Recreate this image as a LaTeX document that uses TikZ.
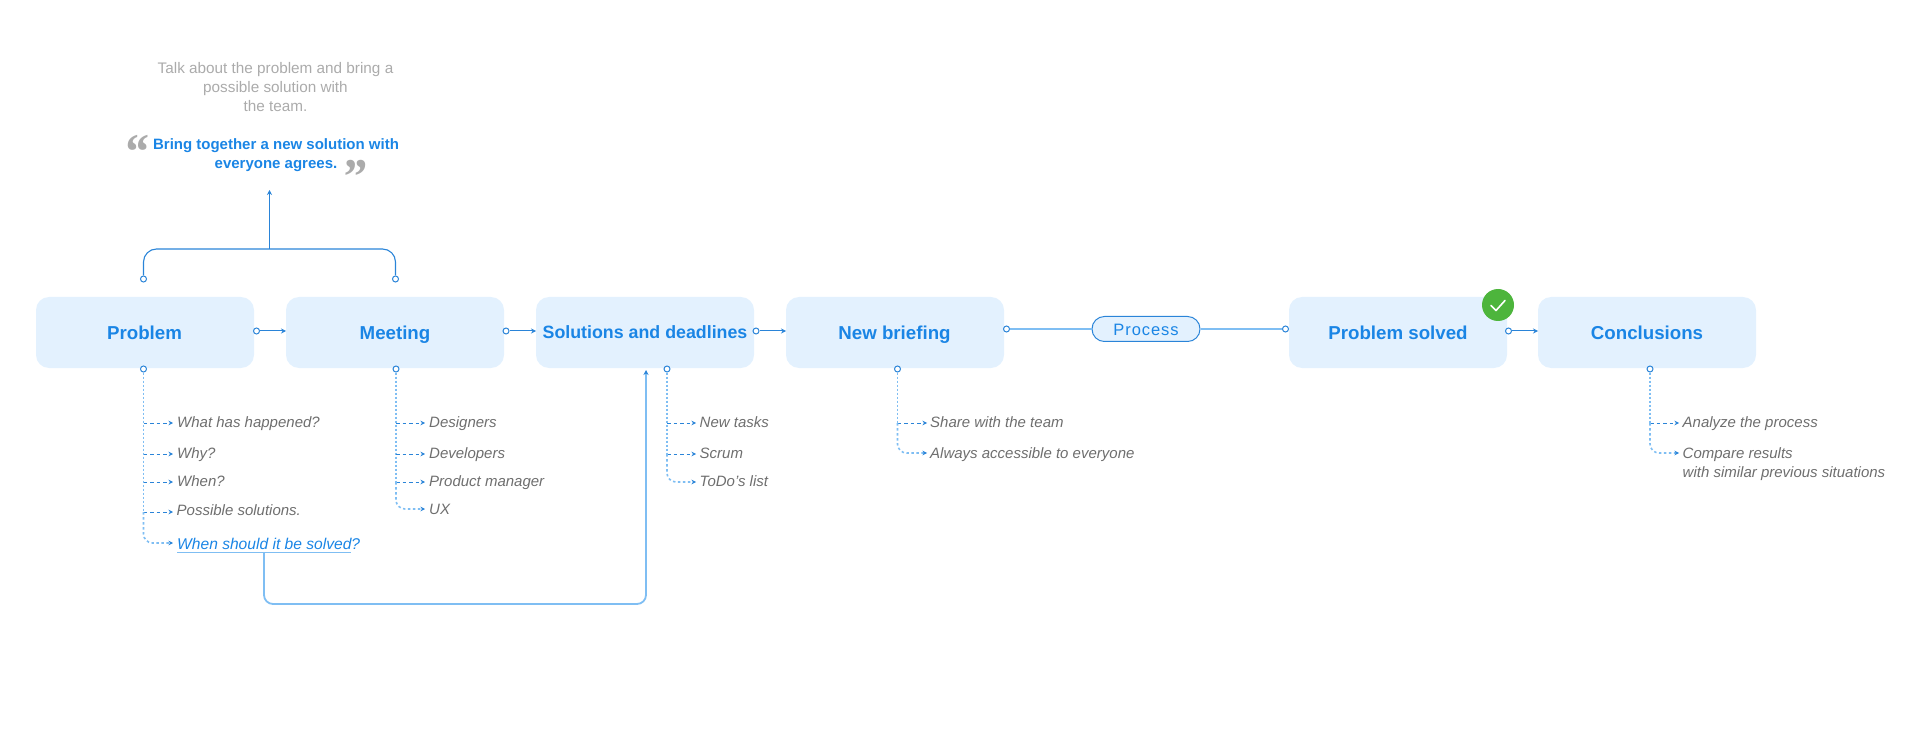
\documentclass[tikz,border=0pt]{standalone}
\usepackage{fontspec}
\setmainfont{Liberation Sans}
\newfontfamily\serifq{Liberation Serif}
\newfontfamily\spaced[LetterSpace=5.6]{Liberation Sans}
\usetikzlibrary{arrows.meta}
\definecolor{boxfill}{HTML}{E3F1FE}
\definecolor{blueT}{HTML}{1A85E5}
\definecolor{lineD}{HTML}{2A84D8}
\definecolor{lineL}{HTML}{7FBEF3}
\definecolor{grayT}{HTML}{6E6E6E}
\definecolor{grayL}{HTML}{ABABAB}
\definecolor{okgreen}{HTML}{4DB53C}
\tikzset{
  x=1pt,y=-1pt,
  stage/.style={fill=boxfill,rounded corners=13pt,minimum width=218pt,minimum height=71pt,inner sep=0pt},
  stagetext/.style={anchor=base,font=\fontsize{18.7}{22}\selectfont\bfseries,text=blueT,inner sep=0pt},
  port/.style={circle,draw=lineD,fill=white,line width=1pt,minimum size=6pt,inner sep=0pt},
  flow/.style={draw=lineD,line width=1pt,-{Stealth[length=5pt,width=5pt]}},
  trunk/.style={draw=lineL,line width=1.9pt,dash pattern=on 2pt off 2pt},
  branch/.style={draw=lineD,line width=1pt,dash pattern=on 3.5pt off 3pt,-{Stealth[length=4.5pt,width=4.5pt]}},
  endbranch/.style={draw=lineL,line width=1.6pt,dash pattern=on 2.5pt off 2.5pt,rounded corners=9pt,-{Stealth[length=4.5pt,width=4.5pt,lineD]}},
  item/.style={anchor=base west,font=\fontsize{15}{18}\selectfont\itshape,text=grayT,inner sep=0pt},
  talktext/.style={anchor=base,font=\fontsize{15.3}{18}\selectfont,text=grayL,inner sep=0pt},
  bringtext/.style={anchor=base,font=\fontsize{15}{18}\selectfont\bfseries,text=blueT,inner sep=0pt},
  quotemark/.style={anchor=base,font=\fontsize{50}{50}\selectfont\serifq\bfseries\itshape,text=grayL,inner sep=0pt},
  solid line/.style={draw=lineL,line width=1.8pt},
}
\begin{document}
\begin{tikzpicture}
\useasboundingbox (0,0) rectangle (1920,743);
% stages
\node[stage] (problem) at (145,332.5) {};
\node[stage] (meeting) at (395,332.5) {};
\node[stage] (solutions) at (645,332.5) {};
\node[stage] (briefing) at (895,332.5) {};
\node[stage] (solved) at (1398,332.5) {};
\node[stage] (conclusions) at (1647,332.5) {};
\node[stagetext] (tproblem) at (144.5,339.5) {Problem};
\node[stagetext] (tmeeting) at (395,339.5) {Meeting};
\node[stagetext,font=\fontsize{17.8}{22}\selectfont\bfseries] (tsolutions) at (645,339) {Solutions and deadlines};
\node[stagetext] (tbriefing) at (894.5,339.5) {New briefing};
\node[stagetext] (tsolved) at (1398,339.5) {Problem solved};
\node[stagetext] (tconclusions) at (1647,339.5) {Conclusions};
% check badge
\node[circle,fill=okgreen,minimum size=32pt,inner sep=0pt] (badge) at (1498,305) {};
\draw[white,line width=1.6pt,line cap=round,line join=round] (1491,305.5) -- (1496,310.5) -- (1505,300.5);
% top text
\node[talktext] (talk1) at (275.5,74) {Talk about the problem and bring a};
\node[talktext] (talk2) at (275.5,93) {possible solution with};
\node[talktext] (talk3) at (275.5,112) {the team.};
\node[bringtext] (bring1) at (276,149.5) {Bring together a new solution with};
\node[bringtext] (bring2) at (276,168.5) {everyone agrees.};
\node[quotemark] (qopen) at (136,168.5) {“};
\node[quotemark] (qclose) at (354,193.5) {”};
% ports
\node[port] (pA) at (143.5,279) {};
\node[port] (pB) at (395.5,279) {};
\coordinate (cornerA) at (143.5,249);
\coordinate (cornerB) at (395.5,249);
\coordinate (join) at (269.5,249);
\coordinate (up) at (269.5,190);
\draw[draw=lineD,line width=1.1pt,rounded corners=13pt] (pA) -- (cornerA) -- (cornerB) -- (pB);
\draw[flow] (join) -- (up);
% horizontal flows
\node[port] (rA) at (256.5,331) {};
\node[port] (rB) at (506,331) {};
\node[port] (rC) at (756,331) {};
\node[port] (rD) at (1006.5,329) {};
\node[port] (rE) at (1285.5,329) {};
\node[port] (rF) at (1508.5,331) {};
\coordinate (inB) at (286,331);
\coordinate (inC) at (536,331);
\coordinate (inD) at (786,331);
\coordinate (inF) at (1538,331);
\draw[flow] (rA) -- (inB);
\draw[flow] (rB) -- (inC);
\draw[flow] (rC) -- (inD);
\draw[flow] (rF) -- (inF);
\node[draw=lineD,fill=boxfill,rounded corners=12.4pt,line width=1pt,minimum width=108pt,minimum height=25pt,inner sep=0pt] (process) at (1146,329) {};
\node[anchor=base,font=\fontsize{16.5}{20}\spaced,text=blueT,inner sep=0pt] (tprocess) at (1146,335.5) {Process};
\draw[solid line] (rD) -- (process);
\draw[solid line] (process) -- (rE);
% problem items
\node[port] (bA) at (143.5,369) {};
\draw[trunk] (bA) -- (143.5,512);
\coordinate (a1) at (143.5,423); \coordinate (a1e) at (173,423);
\coordinate (a2) at (143.5,454); \coordinate (a2e) at (173,454);
\coordinate (a3) at (143.5,482); \coordinate (a3e) at (173,482);
\coordinate (a4) at (143.5,512); \coordinate (a4e) at (173,512);
\coordinate (a5e) at (173,543);
\draw[branch] (a1) -- (a1e);
\draw[branch] (a2) -- (a2e);
\draw[branch] (a3) -- (a3e);
\draw[branch] (a4) -- (a4e);
\draw[endbranch] (a4) |- (a5e);
\node[item] (i1) at (177,427.5) {What has happened?};
\node[item] (i2) at (177,458.5) {Why?};
\node[item] (i3) at (177,486.5) {When?};
\node[item] (i4) at (176.5,515.5) {Possible solutions.};
\node[item,text=blueT,font=\fontsize{15.6}{18}\selectfont\itshape] (i5) at (177,549.5) {When should it be solved?};
\coordinate (ulA) at (177,552.5);
\coordinate (ulB) at (351,552.5);
\draw[solid line,line width=1.4pt] (ulA) -- (ulB);
% long link
\coordinate (lnkS) at (264,553);
\coordinate (lnkC1) at (264,604);
\coordinate (lnkC2) at (646,604);
\coordinate (lnkE) at (646,370);
\draw[solid line,rounded corners=9pt,-{Stealth[length=5pt,width=5pt,lineD]}] (lnkS) -- (lnkC1) -- (lnkC2) -- (lnkE);
% meeting items
\node[port] (bB) at (396,369) {};
\draw[trunk] (bB) -- (396,482);
\coordinate (b1) at (396,423); \coordinate (b1e) at (425,423);
\coordinate (b2) at (396,454); \coordinate (b2e) at (425,454);
\coordinate (b3) at (396,482); \coordinate (b3e) at (425,482);
\coordinate (b4e) at (425,509);
\draw[branch] (b1) -- (b1e);
\draw[branch] (b2) -- (b2e);
\draw[branch] (b3) -- (b3e);
\draw[endbranch] (b3) |- (b4e);
\node[item] (j1) at (429,427.5) {Designers};
\node[item] (j2) at (429,458.5) {Developers};
\node[item] (j3) at (429,486.5) {Product manager};
\node[item] (j4) at (429,514.5) {UX};
% solutions items
\node[port] (bC) at (667,369) {};
\draw[trunk] (bC) -- (667,454);
\coordinate (c1) at (667,423); \coordinate (c1e) at (696,423);
\coordinate (c2) at (667,454); \coordinate (c2e) at (696,454);
\coordinate (c3e) at (696,482);
\draw[branch] (c1) -- (c1e);
\draw[branch] (c2) -- (c2e);
\draw[endbranch] (c2) |- (c3e);
\node[item] (k1) at (699.5,427.5) {New tasks};
\node[item] (k2) at (699.5,458.5) {Scrum};
\node[item] (k3) at (699.5,486.5) {ToDo's list};
% briefing items
\node[port] (bD) at (897.5,369) {};
\draw[trunk] (bD) -- (897.5,423);
\coordinate (d1) at (897.5,423); \coordinate (d1e) at (927,423);
\coordinate (d2e) at (927,453);
\draw[branch] (d1) -- (d1e);
\draw[endbranch] (d1) |- (d2e);
\node[item] (l1) at (930,427.5) {Share with the team};
\node[item] (l2) at (930,458.5) {Always accessible to everyone};
% conclusions items
\node[port] (bE) at (1650,369) {};
\draw[trunk] (bE) -- (1650,423);
\coordinate (e1) at (1650,423); \coordinate (e1e) at (1679,423);
\coordinate (e2e) at (1679,453);
\draw[branch] (e1) -- (e1e);
\draw[endbranch] (e1) |- (e2e);
\node[item] (m1) at (1682.5,427.5) {Analyze the process};
\node[item] (m2) at (1682.5,458.5) {Compare results};
\node[item] (m3) at (1682.5,477.5) {with similar previous situations};
\end{tikzpicture}
\end{document}
